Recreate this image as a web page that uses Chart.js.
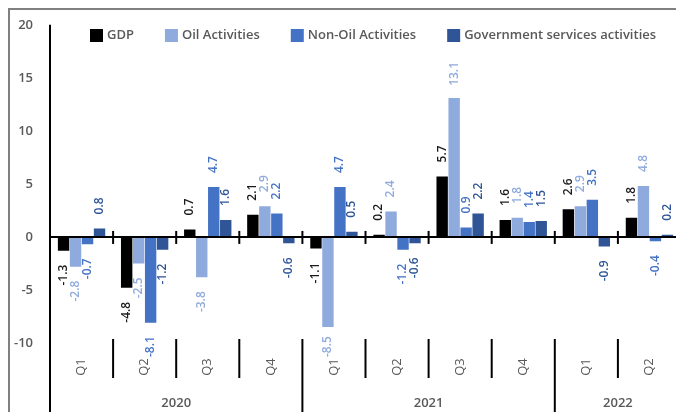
<!DOCTYPE html>
<html><head><meta charset="utf-8">
<script src="https://cdn.jsdelivr.net/npm/chart.js@4.4.0/dist/chart.umd.min.js"></script>
<style>
html,body{margin:0;padding:0;overflow:hidden;background:#fff;width:676px;height:412px;}
#frame{position:absolute;left:8px;top:8px;width:720px;height:500px;border-left:2px solid #808080;border-top:2px solid #808080;}
#wrap{position:absolute;left:0;top:0;width:682px;height:412px;}
</style></head><body>
<div id="frame"></div>
<div id="wrap"><canvas id="c"></canvas></div>
<script>
const quarters = ['Q1','Q2','Q3','Q4','Q1','Q2','Q3','Q4','Q1','Q2'];
const years = ['2020','2021','2022'];
const quartersPerYear = [4, 4, 2];
const seriesNames = ['GDP', 'Oil Activities', 'Non-Oil Activities', 'Government services activities'];
const gdp        = [-1.3, -4.8,  0.7,  2.1, -1.1,  0.2,  5.7, 1.6,  2.6,  1.8];
const oil        = [-2.8, -2.5, -3.8,  2.9, -8.5,  2.4, 13.1, 1.8,  2.9,  4.8];
const nonOil     = [-0.7, -8.1,  4.7,  2.2,  4.7, -1.2,  0.9, 1.4,  3.5, -0.4];
const government = [ 0.8, -1.2,  1.6, -0.6,  0.5, -0.6,  2.2, 1.5, -0.9,  0.2];
const yTicks = { min: -10, max: 20, step: 5 };

const barColors = ['#000000', '#8FAADC', '#4472C4', '#2F5597'];
const labelColors = ['#1a1a1a', '#8FAADC', '#4472C4', '#2F5597'];
const FONT = '"Open Sans", "Noto Sans", sans-serif';
const GRAY = '#595959';

const deco = {
  id: 'deco',
  afterDatasetsDraw(chart) {
    const ctx = chart.ctx;
    const ca = chart.chartArea;
    const xs = chart.scales.x, ys = chart.scales.y;
    const H = chart.height;
    const y0 = ys.getPixelForValue(0);
    const n = quarters.length;
    const half = (xs.getPixelForValue(1) - xs.getPixelForValue(0)) / 2;
    ctx.save();
    ctx.strokeStyle = '#000';
    ctx.lineWidth = 2;
    // zero line
    ctx.beginPath(); ctx.moveTo(ca.left, y0); ctx.lineTo(ca.right, y0); ctx.stroke();
    // vertical axis line
    ctx.beginPath(); ctx.moveTo(ca.left, ca.top); ctx.lineTo(ca.left, H); ctx.stroke();
    // ticks on zero line and bottom category separators
    const yearBounds = [];
    let acc = 0; quartersPerYear.forEach(q => { acc += q; yearBounds.push(acc); });
    for (let i = 1; i <= n; i++) {
      const bx = xs.getPixelForValue(i - 1) + half;
      ctx.beginPath(); ctx.moveTo(bx, y0 - 6); ctx.lineTo(bx, y0 + 7); ctx.stroke();
      if (i < n) {
        const isYear = yearBounds.includes(i);
        ctx.beginPath(); ctx.moveTo(bx, ca.bottom - 4); ctx.lineTo(bx, isYear ? H : ca.bottom + 35); ctx.stroke();
      }
    }
    // quarter labels
    ctx.fillStyle = GRAY;
    ctx.font = '13px ' + FONT;
    ctx.textAlign = 'center'; ctx.textBaseline = 'middle';
    quarters.forEach((q, i) => {
      ctx.save();
      ctx.translate(xs.getPixelForValue(i), ca.bottom + 24);
      ctx.rotate(-Math.PI / 2);
      ctx.fillText(q, 0, 0);
      ctx.restore();
    });
    // year labels
    ctx.font = '600 13px ' + FONT;
    let start = 0;
    years.forEach((yr, k) => {
      const end = start + quartersPerYear[k];
      const left = xs.getPixelForValue(start) - half;
      const right = xs.getPixelForValue(end - 1) + half;
      ctx.fillText(yr, (left + right) / 2, ca.bottom + 60);
      start = end;
    });
    // data labels
    ctx.font = '600 12px ' + FONT;
    const GAP = 14, TOPLIM = 62, BOTLIM = 357;
    chart.data.datasets.forEach((ds, di) => {
      const meta = chart.getDatasetMeta(di);
      meta.data.forEach((bar, i) => {
        const v = ds.data[i];
        const txt = v.toFixed(1);
        const w = ctx.measureText(txt).width;
        ctx.save();
        let y;
        if (v >= 0) {
          y = bar.y - GAP; if (y - w < TOPLIM) y = TOPLIM + w;
          ctx.textAlign = 'left';
        } else {
          y = bar.y + GAP; if (y + w > BOTLIM) y = BOTLIM - w;
          ctx.textAlign = 'right';
        }
        ctx.translate(bar.x, y);
        ctx.rotate(-Math.PI / 2);
        ctx.textBaseline = 'middle';
        ctx.fillStyle = labelColors[di];
        ctx.fillText(txt, 0, 0);
        ctx.restore();
      });
    });
    // legend
    ctx.font = '600 13px ' + FONT;
    ctx.textAlign = 'left'; ctx.textBaseline = 'middle';
    let lx = 90;
    const ly = 35;
    seriesNames.forEach((nm, i) => {
      ctx.fillStyle = barColors[i];
      ctx.fillRect(lx, ly - 6, 13, 13);
      ctx.fillStyle = GRAY;
      ctx.fillText(nm, lx + 17, ly);
      lx += 17 + ctx.measureText(nm).width + 31;
    });
    ctx.restore();
  }
};

new Chart(document.getElementById('c'), {
  type: 'bar',
  data: {
    labels: quarters,
    datasets: [
      { label: seriesNames[0], data: gdp, backgroundColor: barColors[0] },
      { label: seriesNames[1], data: oil, backgroundColor: barColors[1] },
      { label: seriesNames[2], data: nonOil, backgroundColor: barColors[2] },
      { label: seriesNames[3], data: government, backgroundColor: barColors[3] }
    ]
  },
  options: {
    responsive: true,
    maintainAspectRatio: false,
    animation: false,
    devicePixelRatio: 1,
    layout: { padding: { top: 21, bottom: 69, right: 1, left: 0 } },
    datasets: { bar: { categoryPercentage: 0.76, barPercentage: 0.95 } },
    plugins: { legend: { display: false }, tooltip: { enabled: false } },
    scales: {
      x: { display: false, offset: true },
      y: {
        min: yTicks.min, max: yTicks.max,
        afterFit(s) { s.width = 50; },
        grid: { display: false, drawTicks: false },
        border: { display: false },
        ticks: { stepSize: yTicks.step, padding: 17, color: GRAY, font: { family: FONT, size: 13, weight: '600' } }
      }
    }
  },
  plugins: [deco]
});
</script>
</body></html>
